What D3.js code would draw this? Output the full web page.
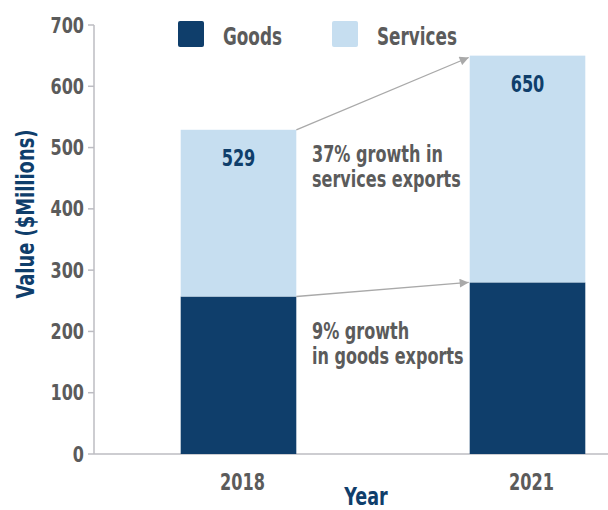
<!DOCTYPE html>
<html>
<head>
<meta charset="utf-8">
<script src="https://cdn.jsdelivr.net/npm/d3@7"></script>
<style>
  html, body { margin: 0; padding: 0; background: #fff; }
  svg text { font-family: "DejaVu Sans Condensed", "DejaVu Sans", sans-serif; font-stretch: condensed; font-weight: bold; }
</style>
</head>
<body>
<svg id="chart" width="608" height="510"></svg>
<script>
const years = ["2018", "2021"];
const goods = [257, 280];
const services = [272, 370];
const totals = [529, 650];
const yTicks = [0, 100, 200, 300, 400, 500, 600, 700];
const seriesNames = ["Goods", "Services"];
const notes = [["37% growth in", "services exports"], ["9% growth", "in goods exports"]];

const colors = { Goods: "#0f3e6b", Services: "#c6def0" };
const gray = "#5b5b5b";
const axisGray = "#bcbcc2";
const navy = "#0f3e6b";

const svg = d3.select("#chart");
const y = d3.scaleLinear().domain([0, 700]).range([454, 25]);
const x = d3.scaleBand().domain(years).range([94, 672]).paddingInner(0.6).paddingOuter(0.3);

// squeeze text horizontally to look like a condensed face
function condense(sel, factor) {
  sel.each(function () {
    const t = d3.select(this);
    const ax = +t.attr("x") || 0;
    t.attr("transform", `translate(${ax},0) scale(${factor},1) translate(${-ax},0)`);
  });
}

// axes lines
svg.append("line").attr("x1", 94).attr("x2", 94).attr("y1", y(700)).attr("y2", y(0))
  .attr("stroke", axisGray).attr("stroke-width", 1.5);
svg.append("line").attr("x1", 94).attr("x2", 608).attr("y1", y(0)).attr("y2", y(0))
  .attr("stroke", axisGray).attr("stroke-width", 1.5);

// y ticks
const yt = svg.append("g").selectAll("g").data(yTicks).enter().append("g");
yt.append("line").attr("x1", 88).attr("x2", 94).attr("y1", d => y(d)).attr("y2", d => y(d))
  .attr("stroke", axisGray).attr("stroke-width", 1.5);
yt.append("text").attr("x", 84).attr("y", d => y(d)).attr("dy", "0.36em")
  .attr("text-anchor", "end").attr("font-size", 21).attr("fill", gray).text(d => d)
  .call(condense, 0.85);

// stacked data
const rows = years.map((yr, i) => ({ year: yr, Goods: goods[i], Services: services[i] }));
const stack = d3.stack().keys(seriesNames)(rows);

svg.append("g").selectAll("g").data(stack).enter().append("g")
  .attr("fill", d => colors[d.key])
  .selectAll("rect").data(d => d).enter().append("rect")
  .attr("x", d => x(d.data.year))
  .attr("width", x.bandwidth())
  .attr("y", d => y(d[1]))
  .attr("height", d => y(d[0]) - y(d[1]));

// total labels
svg.append("g").selectAll("text").data(years).enter().append("text")
  .attr("x", d => x(d) + x.bandwidth() / 2)
  .attr("y", (d, i) => y(totals[i]) + 36)
  .attr("text-anchor", "middle").attr("font-size", 23).attr("fill", navy)
  .text((d, i) => totals[i]).call(condense, 0.78);

// x tick labels
svg.append("g").selectAll("text").data(years).enter().append("text")
  .attr("x", d => x(d) + x.bandwidth() / 2 + 4)
  .attr("y", 490)
  .attr("text-anchor", "middle").attr("font-size", 23).attr("fill", gray)
  .text(d => d).call(condense, 0.78);

// axis titles
svg.append("text").attr("x", 366).attr("y", 505).attr("text-anchor", "middle")
  .attr("font-size", 25).attr("fill", navy).text("Year").call(condense, 0.78);
svg.append("text").attr("transform", "translate(34,214) rotate(-90) scale(0.83,1)").attr("text-anchor", "middle")
  .attr("font-size", 24).attr("fill", navy).text("Value ($Millions)");

// legend
const legX = [178, 332];
const lg = svg.append("g").selectAll("g").data(seriesNames).enter().append("g");
lg.append("rect").attr("x", (d, i) => legX[i]).attr("y", 21).attr("width", 26).attr("height", 26)
  .attr("rx", 2).attr("fill", d => colors[d]);
lg.append("text").attr("x", (d, i) => legX[i] + 45).attr("y", 45)
  .attr("font-size", 24).attr("fill", gray).text(d => d).call(condense, 0.78);

// arrows
const defs = svg.append("defs");
defs.append("marker").attr("id", "arr").attr("viewBox", "0 0 10 10").attr("refX", 10).attr("refY", 5)
  .attr("markerWidth", 10).attr("markerHeight", 9).attr("markerUnits", "userSpaceOnUse").attr("orient", "auto")
  .append("path").attr("d", "M0,0 L10,5 L0,10 Z").attr("fill", "#a9a9a9");

const x0 = x(years[0]) + x.bandwidth();
const x1 = x(years[1]) - 1;
const arrows = [
  { from: totals[0], to: totals[1] - 3 },
  { from: goods[0], to: goods[1] }
];
svg.append("g").selectAll("line").data(arrows).enter().append("line")
  .attr("x1", x0).attr("y1", d => y(d.from))
  .attr("x2", x1).attr("y2", d => y(d.to))
  .attr("stroke", "#a9a9a9").attr("stroke-width", 1.3)
  .attr("marker-end", "url(#arr)");

// annotations
const noteY = [[162, 187], [339, 364]];
notes.forEach((lines, i) => {
  lines.forEach((t, j) => {
    svg.append("text").attr("x", 312).attr("y", noteY[i][j]).attr("font-size", 23)
      .attr("fill", gray).text(t).call(condense, 0.776);
  });
});
</script>
</body>
</html>
